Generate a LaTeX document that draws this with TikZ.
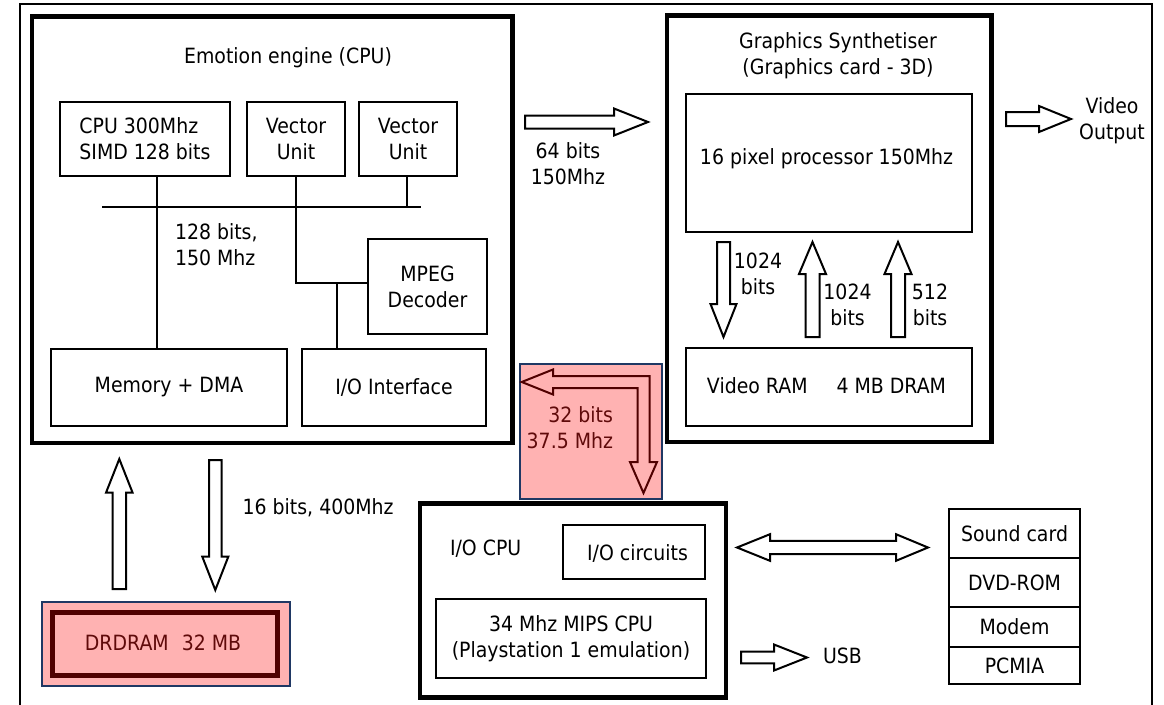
\documentclass[tikz,border=0pt]{standalone}
\usepackage{fontspec}
\setmainfont{DejaVu Sans}[FakeStretch=0.9]
\usetikzlibrary{calc}

\definecolor{pinkfill}{RGB}{255,178,178}
\definecolor{darkred}{RGB}{80,0,0}
\definecolor{navyline}{RGB}{31,56,100}
\definecolor{redtext}{RGB}{95,10,10}

\tikzset{
  thinbox/.style={draw=black, line width=2.2pt, inner sep=0pt, outer sep=0pt},
  thickbox/.style={draw=black, line width=4.5pt, inner sep=0pt, outer sep=0pt},
  lbl/.style={inner sep=0pt, outer sep=0pt},
  wire/.style={line width=2.2pt},
  barrow/.style={draw=black, line width=2pt, fill=white, line join=miter},
  redarrow/.style={draw=darkred, line width=2pt, fill=pinkfill, line join=miter},
}

% block arrow: [style]{start}{angle}{length}{shaft half width}{head half width}{head length}
\newcommand\blockarrow[7][barrow]{%
  \begin{scope}[shift={#2}, rotate=#3]
    \path[#1] (0,-#5) -- ({#4-#7},-#5) -- ({#4-#7},-#6) -- (#4,0)
      -- ({#4-#7},#6) -- ({#4-#7},#5) -- (0,#5) -- cycle;
  \end{scope}}

\begin{document}
\begin{tikzpicture}[x=1pt, y=-1pt, font=\fontsize{21}{26}\selectfont]
\useasboundingbox (0,0) rectangle (1164,704);
\fill[white] (0,0) rectangle (1164,704);

% page frame
\draw[line width=1.5pt] (20,712) -- (20,4) -- (1152,4) -- (1152,712);

% ---------------- Emotion engine ----------------
\node[thickbox, minimum width=480.5pt, minimum height=426.3pt] (ee) at (272.25,229.85) {};
\node[lbl] (eetitle) at (288,58) {Emotion engine (CPU)};

\node[thinbox, minimum width=170pt, minimum height=74pt, align=left] (cpu) at (145,139) {CPU 300Mhz\\SIMD 128 bits};
\node[thinbox, minimum width=98pt, minimum height=74pt, align=center] (vu1) at (296,139) {Vector\\Unit};
\node[thinbox, minimum width=98pt, minimum height=74pt, align=center] (vu2) at (408,139) {Vector\\Unit};
\node[thinbox, minimum width=119pt, minimum height=95pt, align=center] (mpeg) at (427.5,286.5) {MPEG\\Decoder};
\node[thinbox, minimum width=236pt, minimum height=77pt] (mem) at (169,387.5) {Memory + DMA};
\node[thinbox, minimum width=184pt, minimum height=77pt] (ioif) at (394,387.5) {I/O Interface};

% internal bus
\coordinate (busL) at (102,207);
\coordinate (busR) at (421,207);
\draw[wire] (busL) -- (busR);
\draw[wire] (cpu.south -| 157,0) -- (mem.north -| 157,0);
\draw[wire] (vu2.south -| 407,0) -- (407,207);
\coordinate (vujoin) at (296,283);
\draw[wire] (vu1.south) -- (vujoin) -- (mpeg.west |- vujoin);
\draw[wire] (337,283) -- (ioif.north -| 337,0);
\node[lbl, align=left, anchor=west] (buslbl) at (175,245) {128 bits,\\150 Mhz};

% ---------------- Graphics Synthetiser ----------------
\node[thickbox, minimum width=324.5pt, minimum height=426.3pt] (gs) at (829.25,228.85) {};
\node[lbl, align=center] (gstitle) at (838,55.5) {Graphics Synthetiser\\(Graphics card - 3D)};
\node[thinbox, minimum width=286pt, minimum height=138pt] (pix) at (829,163) {};
\node[lbl] (pixlbl) at (826.5,159) {16 pixel processor 150Mhz};
\node[thinbox, minimum width=286pt, minimum height=78pt] (vram) at (829,387) {};
\node[lbl] (vramlbl) at (826.5,386) {Video RAM\hspace{29pt}4 MB DRAM};

% pixel processor <-> video RAM
\coordinate (pd) at (723.5,242);
\coordinate (pu1) at (812.5,337);
\coordinate (pu2) at (898,337);
\blockarrow{(pd)}{-90}{95}{6.5}{13}{33}
\blockarrow{(pu1)}{90}{95}{7}{13.5}{32}
\blockarrow{(pu2)}{90}{95}{7}{13.5}{32}
\node[lbl, align=center] (l1024a) at (758,273.5) {1024\\bits};
\node[lbl, align=center] (l1024b) at (847.5,305) {1024\\bits};
\node[lbl, align=center] (l512) at (930,305) {512\\bits};

% EE -> GS
\coordinate (a64) at (525,122);
\blockarrow{(a64)}{0}{123}{6.5}{13.5}{34}
\node[lbl, align=center] (l64) at (568,163.5) {64 bits\\150Mhz};

% video output
\coordinate (avid) at (1006,119);
\blockarrow{(avid)}{0}{65}{7}{13}{32}
\node[lbl, align=center] (vidout) at (1112,121) {Video\\Output};

% ---------------- EE <-> I/O CPU link ----------------
\node[draw=navyline, fill=pinkfill, line width=1.2pt, minimum width=142pt, minimum height=135pt, inner sep=0pt] (iolink) at (591,431.5) {};
\path[redarrow] (521.7,382) -- (553,369.5) -- (553,376) -- (649.5,376) -- (649.5,462)
  -- (657,462) -- (643.5,493) -- (630,462) -- (637.5,462) -- (637.5,388)
  -- (553,388) -- (553,394.5) -- cycle;
\node[lbl, align=right, anchor=east, text=redtext] (l32) at (613,428) {32 bits\\37.5 Mhz};

% ---------------- main memory ----------------
\node[draw=navyline, fill=pinkfill, line width=1.2pt, minimum width=248pt, minimum height=84pt, inner sep=0pt] (dram) at (166,644) {};
\draw[darkred, line width=5pt] (52,612) rectangle (277.5,675.5);
\node[lbl, text=redtext] (dramlbl) at (163,643) {DRDRAM\hspace{13pt}32 MB};

\coordinate (aup) at (119.3,589);
\coordinate (adn) at (215.3,460);
\blockarrow{(aup)}{90}{130}{6.7}{13.3}{33.7}
\blockarrow{(adn)}{-90}{130}{6.3}{13}{33.3}
\node[lbl, anchor=west] (l16) at (242.7,508) {16 bits, 400Mhz};

% ---------------- I/O CPU ----------------
\node[thickbox, minimum width=306pt, minimum height=194.2pt] (iocpu) at (573,600.4) {};
\node[lbl, anchor=west] (iocpulbl) at (450,549) {I/O CPU};
\node[thinbox, minimum width=142pt, minimum height=54pt] (iocirc) at (634,552) {};
\node[lbl] (iocirclbl) at (637.5,553) {I/O circuits};
\node[thinbox, minimum width=270pt, minimum height=79pt, align=center] (mips) at (571,638.5) {34 Mhz MIPS CPU\\(Playstation 1 emulation)};

\coordinate (ausb) at (741,657.5);
\blockarrow{(ausb)}{0}{66}{5.8}{13}{33}
\node[lbl, anchor=west] (usb) at (823,656) {USB};

% peripherals
\node[thinbox, minimum width=131pt, minimum height=49pt] (snd) at (1014.5,533.5) {Sound card};
\node[thinbox, minimum width=131pt, minimum height=49pt] (dvd) at (1014.5,582.5) {DVD-ROM};
\node[thinbox, minimum width=131pt, minimum height=40pt] (modem) at (1014.5,627) {Modem};
\node[thinbox, minimum width=131pt, minimum height=37pt] (pcmia) at (1014.5,665.5) {PCMIA};

% I/O circuits <-> peripherals
\path[barrow] (737,547.5) -- (770,534.2) -- (770,540.8) -- (896,540.8) -- (896,534.2)
  -- (928,547.5) -- (896,560.8) -- (896,554.2) -- (770,554.2) -- (770,560.8) -- cycle;
\end{tikzpicture}
\end{document}
